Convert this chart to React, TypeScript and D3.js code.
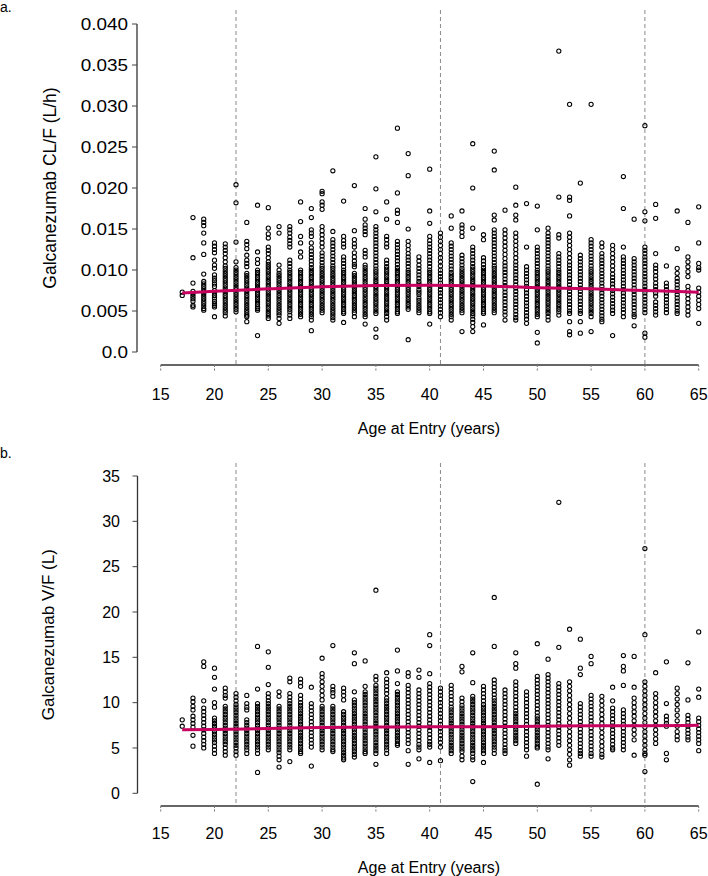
import React from "react";
import * as d3 from "d3";

// ---------- DATA ----------
const ages = [17, 18, 19, 20, 21, 22, 23, 24, 25, 26, 27, 28, 29, 30, 31, 32, 33, 34, 35, 36, 37, 38, 39, 40, 41, 42, 43, 44, 45, 46, 47, 48, 49, 50, 51, 52, 53, 54, 55, 56, 57, 58, 59, 60, 61, 62, 63, 64, 65];

// CL/F in units of 0.001 L/h, one list per age
const clValues = [
  [7.3, 6.9],
  [16.4, 11.5, 8.4, 7.4, 7.1, 6.8, 6.5, 6.2, 5.7, 5.5],
  [16.2, 15.8, 15.4, 14.5, 13.3, 11.9, 9.5, 8.6, 8.3, 8.0, 7.7, 7.4, 7.1, 6.8, 6.5, 6.2, 5.9, 5.6, 5.3, 5.1],
  [13.3, 12.9, 12.5, 12.1, 11.2, 10.6, 10.2, 9.4, 9.0, 8.7, 8.3, 8.0, 7.5, 7.2, 6.9, 6.6, 6.2, 5.9, 5.7, 5.5, 4.3],
  [13.2, 12.8, 12.4, 12.0, 11.5, 11.0, 10.5, 10.2, 9.9, 9.6, 9.3, 9.0, 8.7, 8.4, 8.1, 7.8, 7.5, 7.2, 6.9, 6.6, 6.3, 6.0, 5.7, 5.4, 5.1, 4.8, 4.4],
  [20.4, 18.2, 13.4, 11.0, 10.3, 10.0, 9.7, 9.4, 9.1, 8.8, 8.5, 8.2, 7.9, 7.6, 7.3, 7.0, 6.7, 6.4, 6.1, 5.8, 5.5, 5.2, 4.9],
  [15.8, 13.5, 13.1, 12.6, 11.8, 11.2, 10.8, 10.4, 9.6, 9.3, 9.0, 8.7, 8.4, 8.1, 7.8, 7.5, 7.2, 6.9, 6.6, 6.3, 6.0, 5.7, 5.4, 5.1, 4.8, 4.5, 4.3, 3.7],
  [17.9, 12.2, 11.3, 10.8, 10.0, 9.7, 9.4, 9.1, 8.8, 8.5, 8.2, 7.9, 7.6, 7.3, 7.0, 6.7, 6.4, 6.1, 5.8, 5.5, 5.3, 5.1, 2.0],
  [17.6, 15.1, 14.4, 13.9, 12.8, 12.4, 12.0, 11.5, 11.0, 10.7, 10.4, 10.1, 9.8, 9.5, 9.2, 8.9, 8.6, 8.3, 8.0, 7.7, 7.4, 7.1, 6.8, 6.5, 6.2, 5.9, 5.6, 5.3, 5.0, 4.7, 4.4, 4.1],
  [15.3, 14.5, 10.6, 10.0, 9.6, 9.3, 9.0, 8.7, 8.4, 8.1, 7.8, 7.5, 7.2, 6.9, 6.6, 6.3, 6.0, 5.7, 5.4, 5.1, 4.8, 4.5, 4.1, 3.5],
  [15.3, 14.9, 14.5, 14.0, 13.6, 13.2, 12.8, 11.2, 10.8, 10.4, 10.0, 9.7, 9.4, 9.1, 8.8, 8.5, 8.2, 7.9, 7.6, 7.3, 7.0, 6.7, 6.4, 6.1, 5.8, 5.5, 5.2, 4.9, 4.5, 4.1],
  [18.3, 15.9, 14.1, 13.3, 12.2, 11.6, 10.0, 9.7, 9.4, 9.1, 8.8, 8.5, 8.2, 7.9, 7.6, 7.3, 7.0, 6.7, 6.4, 6.1, 5.8, 5.5, 5.2, 4.9, 4.6, 4.3],
  [17.5, 16.4, 14.9, 14.5, 14.1, 13.3, 12.7, 12.3, 11.9, 11.5, 11.1, 10.7, 10.3, 10.0, 9.7, 9.4, 9.1, 8.8, 8.5, 8.2, 7.9, 7.6, 7.3, 7.0, 6.7, 6.4, 6.1, 5.8, 5.5, 5.2, 4.9, 4.6, 4.3, 3.9, 2.6],
  [19.6, 19.3, 18.3, 17.9, 17.4, 15.3, 14.8, 14.3, 13.8, 13.3, 12.8, 12.1, 11.7, 11.3, 10.9, 10.5, 10.2, 9.9, 9.6, 9.3, 9.0, 8.7, 8.4, 8.1, 7.8, 7.5, 7.2, 6.9, 6.6, 6.3, 6.0, 5.7, 5.4, 5.1, 4.8],
  [22.1, 14.7, 13.7, 13.3, 12.9, 12.5, 12.1, 11.7, 11.3, 10.9, 10.5, 10.2, 9.9, 9.6, 9.3, 9.0, 8.7, 8.4, 8.1, 7.8, 7.5, 7.2, 6.9, 6.6, 6.3, 6.0, 5.7, 5.4, 5.1, 4.8, 4.5, 4.2, 3.9],
  [18.4, 14.1, 13.6, 13.2, 12.8, 11.6, 11.2, 10.8, 10.4, 10.0, 9.7, 9.4, 9.1, 8.8, 8.5, 8.2, 7.9, 7.6, 7.3, 7.0, 6.7, 6.4, 6.1, 5.8, 5.5, 5.2, 4.9, 4.7, 3.6],
  [20.3, 14.8, 13.7, 13.2, 12.8, 12.1, 11.6, 11.1, 10.7, 10.4, 9.6, 9.3, 9.0, 8.7, 8.4, 8.1, 7.8, 7.5, 7.2, 6.9, 6.6, 6.3, 6.0, 5.7, 5.4, 5.1, 4.8, 4.3],
  [17.5, 16.2, 15.5, 15.1, 14.7, 14.3, 12.4, 12.0, 11.6, 10.6, 10.3, 10.0, 9.7, 9.4, 9.1, 8.8, 8.5, 8.2, 7.9, 7.6, 7.3, 7.0, 6.7, 6.4, 6.1, 5.8, 5.5, 5.2, 4.9, 4.6, 4.3, 3.4],
  [23.8, 19.9, 17.1, 15.3, 14.9, 14.5, 14.1, 13.7, 13.3, 12.9, 12.5, 12.1, 11.7, 11.3, 10.9, 10.5, 10.1, 9.8, 9.5, 9.2, 8.9, 8.6, 8.3, 8.0, 7.7, 7.4, 7.1, 6.8, 6.5, 6.2, 5.9, 5.6, 5.3, 5.0, 4.7, 2.8, 1.8],
  [18.3, 16.2, 14.1, 13.7, 13.2, 12.8, 11.2, 10.8, 10.4, 10.1, 9.8, 9.5, 9.2, 8.9, 8.6, 8.3, 8.0, 7.7, 7.4, 7.1, 6.8, 6.5, 6.2, 5.9, 5.6, 5.3, 5.0, 4.7, 4.3, 3.9],
  [27.3, 19.4, 17.3, 16.9, 15.8, 13.5, 13.1, 12.7, 12.3, 11.9, 11.5, 11.1, 10.7, 10.3, 10.0, 9.7, 9.4, 9.1, 8.8, 8.5, 8.2, 7.9, 7.6, 7.3, 7.0, 6.7, 6.4, 6.1, 5.8, 5.5, 5.2, 4.9, 4.7],
  [24.2, 21.5, 15.0, 13.5, 13.0, 12.5, 12.0, 11.6, 11.2, 10.8, 10.4, 10.0, 9.7, 9.4, 9.1, 8.8, 8.5, 8.2, 7.9, 7.6, 7.3, 7.0, 6.7, 6.4, 6.1, 5.8, 5.5, 5.2, 1.5],
  [11.6, 11.1, 10.6, 10.2, 9.8, 9.4, 9.0, 8.6, 8.3, 8.0, 7.6, 7.3, 7.0, 6.6, 6.3, 6.0, 5.7, 5.4, 5.1, 4.8],
  [22.3, 17.2, 15.7, 14.1, 13.6, 13.2, 12.8, 12.4, 12.0, 11.6, 11.2, 10.8, 10.4, 10.0, 9.7, 9.4, 9.1, 8.8, 8.5, 8.2, 7.9, 7.6, 7.3, 7.0, 6.7, 6.4, 6.1, 5.8, 5.5, 5.2, 4.9, 4.7, 3.4],
  [14.5, 14.0, 13.5, 13.0, 12.5, 12.0, 11.5, 11.0, 10.5, 10.0, 9.6, 9.2, 8.8, 8.4, 8.0, 7.6, 7.2, 6.8, 6.4, 6.0, 5.6, 5.2, 4.8, 4.3],
  [16.6, 15.1, 13.3, 12.9, 12.5, 12.1, 11.7, 11.3, 10.9, 10.5, 10.1, 9.7, 9.4, 9.1, 8.8, 8.5, 8.2, 7.9, 7.6, 7.3, 7.0, 6.7, 6.4, 6.1, 5.8, 5.5, 5.2, 4.9, 4.6, 4.3, 3.9],
  [17.2, 15.5, 15.1, 14.6, 14.1, 11.8, 11.4, 11.0, 10.6, 10.2, 9.9, 9.6, 9.3, 9.0, 8.7, 8.4, 8.1, 7.8, 7.5, 7.2, 6.9, 6.6, 6.3, 6.0, 5.7, 5.4, 5.1, 4.8, 2.5],
  [25.4, 20.0, 15.1, 12.8, 12.4, 12.0, 11.6, 11.2, 10.8, 10.4, 10.1, 9.8, 9.5, 9.2, 8.9, 8.6, 8.3, 8.0, 7.7, 7.4, 7.1, 6.8, 6.5, 6.2, 5.9, 5.6, 5.3, 5.0, 4.7, 4.4, 4.0, 3.6, 3.1, 2.5],
  [14.3, 13.7, 11.5, 11.1, 10.7, 10.3, 10.0, 9.7, 9.4, 9.1, 8.8, 8.5, 8.2, 7.9, 7.6, 7.3, 7.0, 6.7, 6.4, 6.1, 5.8, 5.5, 5.2, 4.9, 4.7, 3.3],
  [24.5, 22.2, 16.7, 16.1, 14.9, 14.5, 14.1, 13.7, 13.3, 12.9, 12.5, 12.1, 11.7, 11.3, 10.9, 10.5, 10.2, 9.9, 9.6, 9.3, 9.0, 8.7, 8.4, 8.1, 7.8, 7.5, 7.2, 6.9, 6.6, 6.3, 6.0, 5.7, 5.4, 5.1, 4.8],
  [17.3, 14.9, 14.4, 13.9, 13.4, 12.9, 12.4, 11.9, 11.4, 10.9, 10.5, 10.1, 9.7, 9.3, 8.9, 8.5, 8.1, 7.7, 7.3, 6.9, 6.5, 6.1, 5.7, 5.3, 4.9, 4.5, 3.9],
  [20.1, 17.9, 16.7, 16.1, 14.5, 14.0, 13.5, 13.0, 12.5, 12.0, 11.5, 11.0, 10.6, 10.2, 9.8, 9.4, 9.0, 8.6, 8.2, 7.8, 7.4, 7.0, 6.6, 6.2, 5.8, 5.4, 5.0, 4.6, 4.2, 3.9],
  [18.1, 12.8, 10.4, 10.0, 9.6, 9.2, 8.8, 8.4, 8.0, 7.6, 7.2, 6.8, 6.4, 6.0, 5.6, 5.2, 4.8, 4.4, 4.0, 3.5],
  [17.8, 14.9, 12.8, 12.4, 12.0, 11.6, 11.2, 10.8, 10.4, 10.0, 9.7, 9.4, 9.1, 8.8, 8.5, 8.2, 7.9, 7.6, 7.3, 7.0, 6.7, 6.4, 6.1, 5.8, 5.5, 5.2, 4.9, 4.6, 4.3, 2.4, 1.1],
  [15.1, 14.5, 14.1, 13.7, 13.3, 12.9, 12.5, 12.1, 11.7, 11.3, 10.9, 10.5, 10.1, 9.8, 9.5, 9.2, 8.9, 8.6, 8.3, 8.0, 7.7, 7.4, 7.1, 6.8, 6.5, 6.2, 5.9, 5.6, 5.3, 5.0, 4.7, 4.3, 3.9],
  [36.7, 18.9, 14.3, 13.9, 12.0, 11.6, 11.2, 10.8, 10.4, 10.0, 9.7, 9.4, 9.1, 8.8, 8.5, 8.2, 7.9, 7.6, 7.3, 7.0, 6.7, 6.4, 6.1, 5.8, 5.5, 5.2, 4.9, 4.5],
  [30.2, 18.9, 18.5, 16.6, 14.5, 14.0, 13.5, 13.0, 12.5, 12.0, 11.5, 11.0, 10.6, 10.2, 9.8, 9.4, 9.0, 8.6, 8.2, 7.8, 7.4, 7.0, 6.6, 6.2, 5.8, 5.4, 5.0, 4.7, 3.7, 2.5, 2.1],
  [20.6, 11.8, 11.4, 11.0, 10.6, 10.2, 9.8, 9.4, 9.0, 8.6, 8.2, 7.8, 7.4, 7.0, 6.6, 6.2, 5.8, 5.4, 5.0, 4.7, 3.7, 2.3],
  [30.2, 13.7, 13.3, 12.9, 12.5, 12.1, 11.7, 11.3, 10.9, 10.5, 10.1, 9.8, 9.5, 9.2, 8.9, 8.6, 8.3, 8.0, 7.7, 7.4, 7.1, 6.8, 6.5, 6.2, 5.9, 5.6, 5.3, 5.0, 4.7, 4.3, 2.5],
  [13.3, 12.8, 12.0, 11.6, 11.2, 10.8, 10.4, 10.0, 9.6, 9.2, 8.8, 8.4, 8.0, 7.6, 7.2, 6.8, 6.4, 6.0, 5.6, 5.2, 4.8, 4.4, 4.0, 3.7],
  [13.0, 12.5, 12.0, 11.5, 11.0, 10.5, 10.0, 9.5, 9.1, 8.7, 8.3, 7.9, 7.5, 7.1, 6.7, 6.3, 5.9, 5.5, 5.1, 4.7, 2.0],
  [21.4, 17.5, 12.8, 11.6, 11.2, 10.8, 10.4, 10.0, 9.6, 9.2, 8.8, 8.4, 8.0, 7.6, 7.2, 6.8, 6.4, 6.0, 5.6, 5.2, 4.8, 4.3],
  [16.2, 11.4, 11.0, 10.6, 10.2, 9.8, 9.4, 9.0, 8.6, 8.2, 7.8, 7.4, 7.0, 6.6, 6.2, 5.8, 5.4, 5.0, 4.6, 4.3, 3.2],
  [27.6, 17.1, 16.0, 12.8, 12.4, 12.0, 11.6, 11.2, 10.8, 10.4, 10.0, 9.6, 9.2, 8.8, 8.4, 8.0, 7.6, 7.2, 6.8, 6.4, 6.0, 5.6, 5.2, 4.8, 2.3, 1.8],
  [18.0, 16.3, 12.0, 10.6, 10.2, 9.8, 9.3, 8.9, 8.4, 8.0, 7.6, 7.2, 6.8, 6.1, 5.7, 5.3, 4.9, 4.5],
  [10.5, 8.4, 8.0, 7.6, 7.2, 6.8, 6.4, 6.0, 5.6, 5.2, 4.8],
  [17.2, 12.6, 10.2, 9.6, 9.0, 8.6, 8.2, 7.8, 7.4, 7.0, 6.6, 6.2, 5.8, 5.4, 5.0, 4.7],
  [15.8, 11.6, 11.0, 10.4, 9.8, 9.2, 8.0, 7.5, 7.0, 6.5, 6.0, 5.5, 5.0, 4.5],
  [17.7, 13.3, 10.8, 10.3, 10.0, 7.8, 7.3, 6.8, 6.3, 5.8, 5.3, 3.5],
];

// V/F in L, one list per age
const vValues = [
  [8.1, 7.4],
  [10.5, 10.1, 9.6, 9.2, 8.5, 8.1, 7.7, 7.3, 6.4, 5.2],
  [14.5, 14.0, 10.2, 9.4, 9.0, 8.6, 8.2, 7.8, 7.4, 7.0, 6.6, 6.2, 5.8, 5.4, 5.0],
  [13.8, 12.8, 11.5, 10.0, 9.5, 8.3, 8.0, 7.7, 7.4, 7.1, 6.8, 6.5, 6.2, 5.9, 5.6, 5.2, 4.8, 4.4],
  [11.6, 11.2, 10.8, 10.5, 9.6, 9.3, 9.0, 8.7, 8.4, 8.1, 7.8, 7.5, 7.2, 6.9, 6.6, 6.3, 6.0, 5.7, 5.4, 5.0, 4.6, 4.2],
  [11.0, 10.6, 10.2, 9.8, 9.5, 9.2, 8.9, 8.6, 8.3, 8.0, 7.7, 7.4, 7.1, 6.8, 6.5, 6.2, 5.9, 5.6, 5.3, 5.0, 4.6, 4.2],
  [10.8, 9.9, 9.5, 9.2, 8.1, 7.8, 7.5, 7.2, 6.9, 6.6, 6.3, 6.0, 5.7, 5.4, 5.1, 4.8, 4.4],
  [16.2, 11.5, 9.9, 9.6, 9.3, 9.0, 8.7, 8.4, 8.1, 7.8, 7.5, 7.2, 6.9, 6.6, 6.3, 6.0, 5.7, 5.4, 5.1, 4.8, 4.4, 2.3],
  [15.6, 13.9, 12.0, 11.0, 10.6, 10.2, 9.9, 9.6, 9.3, 9.0, 8.7, 8.4, 8.1, 7.8, 7.5, 7.2, 6.9, 6.6, 6.3, 6.0, 5.7, 5.4, 5.1, 4.8],
  [11.2, 10.7, 9.6, 9.3, 9.0, 8.7, 8.4, 8.1, 7.8, 7.5, 7.2, 6.9, 6.6, 6.3, 6.0, 5.7, 5.4, 5.1, 4.8, 4.5, 4.1, 3.7, 2.9],
  [12.7, 12.3, 11.0, 10.6, 10.2, 9.9, 9.6, 9.3, 9.0, 8.7, 8.4, 8.1, 7.8, 7.5, 7.2, 6.9, 6.6, 6.3, 6.0, 5.7, 5.4, 5.1, 4.8, 3.5],
  [12.6, 12.2, 11.8, 10.8, 10.4, 10.0, 9.7, 9.4, 9.1, 8.8, 8.5, 8.2, 7.9, 7.6, 7.3, 7.0, 6.7, 6.4, 6.1, 5.8, 5.5, 5.2, 4.9, 4.6, 4.4],
  [11.7, 9.9, 9.5, 9.1, 8.7, 8.3, 7.9, 7.5, 7.1, 6.7, 6.3, 5.9, 5.5, 5.1, 3.0],
  [14.9, 13.2, 12.8, 12.3, 11.8, 11.3, 10.8, 10.3, 9.6, 9.3, 9.0, 8.7, 8.4, 8.1, 7.8, 7.5, 7.2, 6.9, 6.6, 6.3, 6.0, 5.7, 5.4, 5.1, 4.8],
  [16.3, 11.8, 11.4, 11.1, 10.7, 9.6, 9.3, 9.0, 8.7, 8.4, 8.1, 7.8, 7.5, 7.2, 6.9, 6.6, 6.3, 6.0, 5.7, 5.4, 5.1, 4.8, 4.6],
  [11.6, 11.2, 10.8, 10.3, 9.0, 8.7, 8.4, 8.1, 7.8, 7.5, 7.2, 6.9, 6.6, 6.3, 6.0, 5.7, 5.4, 5.1, 4.8, 4.5, 4.2, 3.9, 3.7],
  [15.5, 14.3, 11.2, 10.3, 10.0, 9.7, 9.4, 9.1, 8.8, 8.5, 8.2, 7.9, 7.6, 7.3, 7.0, 6.7, 6.4, 6.1, 5.8, 5.5, 5.2, 4.9, 4.6, 4.3, 4.0],
  [14.6, 11.8, 11.2, 10.9, 10.6, 10.3, 10.0, 9.7, 9.4, 9.1, 8.8, 8.5, 8.2, 7.9, 7.6, 7.3, 7.0, 6.7, 6.4, 6.1, 5.8, 5.5, 5.2, 4.9, 4.6, 4.4],
  [22.4, 12.9, 12.5, 11.9, 11.6, 11.3, 11.0, 10.7, 10.4, 10.1, 9.8, 9.5, 9.2, 8.9, 8.6, 8.3, 8.0, 7.7, 7.4, 7.1, 6.8, 6.5, 6.2, 5.9, 5.6, 5.3, 5.0, 4.7, 4.4, 3.2],
  [13.3, 12.6, 12.2, 11.8, 11.4, 11.0, 10.5, 10.2, 9.9, 9.6, 9.3, 9.0, 8.7, 8.4, 8.1, 7.8, 7.5, 7.2, 6.9, 6.6, 6.3, 6.0, 5.7, 5.4, 5.1, 4.8, 4.4],
  [15.8, 13.5, 12.1, 11.2, 10.9, 10.6, 10.3, 10.0, 9.7, 9.4, 9.1, 8.8, 8.5, 8.2, 7.9, 7.6, 7.3, 7.0, 6.7, 6.4, 6.1, 5.8, 5.5, 5.3],
  [13.3, 12.9, 11.9, 11.5, 11.1, 10.7, 10.3, 9.9, 9.5, 9.1, 8.7, 8.3, 7.9, 7.5, 7.1, 6.7, 6.3, 5.9, 5.5, 4.7, 3.2],
  [13.6, 12.8, 11.4, 11.0, 10.6, 10.2, 9.8, 9.4, 9.0, 8.6, 8.2, 7.8, 7.4, 7.0, 6.6, 6.2, 5.8, 5.4, 5.1, 4.8, 3.8],
  [17.5, 16.3, 13.2, 12.1, 11.7, 11.3, 10.9, 10.5, 10.1, 9.7, 9.3, 8.9, 8.5, 8.1, 7.7, 7.3, 6.9, 6.5, 6.1, 5.7, 5.4, 5.1, 3.4],
  [11.6, 11.2, 10.8, 10.4, 10.0, 9.6, 9.2, 8.8, 8.4, 8.0, 7.6, 7.2, 6.8, 6.4, 6.0, 5.6, 5.1, 3.6],
  [11.9, 11.5, 11.1, 10.7, 10.3, 9.9, 9.5, 9.2, 8.9, 8.6, 8.3, 8.0, 7.7, 7.4, 7.1, 6.8, 6.5, 6.2, 5.9, 5.6, 5.3, 5.0, 4.7, 4.4],
  [14.0, 13.4, 10.5, 10.1, 9.7, 9.4, 9.1, 8.8, 8.5, 8.2, 7.9, 7.6, 7.3, 7.0, 6.7, 6.4, 6.1, 5.8, 5.5, 5.2, 4.9, 4.6, 4.1, 3.7],
  [15.5, 12.2, 10.7, 10.4, 10.1, 9.8, 9.5, 9.2, 8.9, 8.6, 8.3, 8.0, 7.7, 7.4, 7.1, 6.8, 6.5, 6.2, 5.9, 5.6, 5.3, 5.0, 4.7, 4.4, 4.0, 3.7, 1.3],
  [11.8, 11.4, 11.0, 10.6, 10.2, 9.8, 9.5, 9.2, 8.9, 8.6, 8.3, 8.0, 7.7, 7.4, 7.1, 6.8, 6.5, 6.2, 5.9, 5.6, 5.3, 5.0, 4.7, 4.4, 3.4],
  [21.6, 16.2, 12.5, 12.1, 11.7, 11.3, 10.9, 10.5, 10.2, 9.9, 9.6, 9.3, 9.0, 8.7, 8.4, 8.1, 7.8, 7.5, 7.2, 6.9, 6.6, 6.3, 6.0, 5.7, 5.4, 5.1, 4.8, 4.4],
  [11.4, 11.0, 10.6, 10.2, 9.8, 9.4, 9.0, 8.6, 8.2, 7.8, 7.4, 7.0, 6.6, 6.2, 5.8, 5.4, 5.0, 4.7, 4.4],
  [15.5, 14.3, 13.8, 12.3, 11.9, 11.5, 11.1, 10.7, 10.3, 9.9, 9.5, 9.1, 8.8, 8.5, 8.2, 7.9, 7.6, 7.3, 7.0, 6.7, 6.4, 6.1, 5.8, 5.5],
  [11.2, 10.8, 10.4, 10.0, 9.6, 9.2, 8.8, 8.4, 8.0, 7.6, 7.2, 6.8, 6.4, 6.0, 5.6, 5.2, 4.8, 4.1],
  [16.5, 12.9, 12.5, 12.1, 11.7, 11.3, 10.9, 10.5, 10.1, 9.7, 9.3, 8.9, 8.5, 8.2, 7.9, 7.6, 7.3, 7.0, 6.7, 6.4, 6.1, 5.8, 5.5, 5.2, 5.0, 1.0],
  [14.8, 13.1, 12.7, 12.3, 11.9, 11.5, 11.1, 10.7, 10.3, 9.9, 9.5, 9.1, 8.7, 8.3, 7.9, 7.5, 7.1, 6.7, 6.3, 5.9, 5.5, 5.1, 4.8, 3.8],
  [32.1, 16.1, 12.1, 11.7, 11.3, 10.9, 10.5, 10.1, 9.7, 9.3, 8.9, 8.5, 8.1, 7.7, 7.3, 6.9, 6.5, 6.1, 5.7, 5.3],
  [18.1, 12.3, 11.8, 11.3, 10.8, 10.3, 9.8, 9.3, 8.8, 8.3, 7.8, 7.3, 6.8, 6.3, 5.8, 5.3, 4.8, 4.3, 3.7, 3.1],
  [17.0, 13.8, 13.1, 9.9, 9.5, 9.1, 8.7, 8.3, 7.9, 7.5, 7.1, 6.7, 6.3, 5.9, 5.5, 5.1, 4.7, 4.4, 4.1],
  [15.1, 14.3, 10.8, 10.4, 10.0, 9.6, 9.2, 8.8, 8.4, 8.0, 7.6, 7.2, 6.8, 6.4, 6.0, 5.6, 5.2, 4.8, 4.4, 4.1],
  [10.7, 10.2, 9.7, 9.2, 8.7, 8.2, 7.7, 7.2, 6.7, 6.2, 5.7, 5.2, 4.7, 4.3, 4.0],
  [11.7, 10.2, 9.4, 9.0, 8.6, 8.2, 7.8, 7.4, 7.0, 6.6, 6.2, 5.8, 5.4, 5.0, 4.8],
  [15.2, 14.0, 13.5, 11.9, 9.2, 8.8, 8.4, 8.0, 7.6, 7.2, 6.8, 6.4, 6.0, 5.6, 5.2, 4.8],
  [15.1, 11.7, 10.5, 10.0, 9.5, 9.0, 8.5, 8.0, 7.5, 7.0, 6.5, 5.9, 4.2],
  [27.0, 17.5, 12.3, 11.8, 11.3, 10.8, 10.3, 9.8, 9.3, 8.8, 8.3, 7.8, 7.3, 6.8, 6.3, 5.8, 5.3, 4.8, 4.4, 4.2, 2.4],
  [13.3, 11.0, 10.5, 10.0, 9.5, 9.0, 8.5, 8.0, 7.5, 7.0, 6.5, 6.0, 5.5],
  [14.5, 9.9, 8.5, 8.1, 7.7, 7.4, 4.4, 3.7],
  [11.6, 11.0, 10.4, 9.8, 9.2, 8.6, 8.0, 7.4, 6.8, 6.3, 5.9],
  [14.4, 10.3, 8.6, 8.2, 7.8, 7.4, 7.0, 6.6, 6.2, 5.9],
  [17.8, 11.5, 10.6, 8.3, 7.9, 7.5, 7.1, 6.7, 6.3, 5.9, 5.5, 4.7],
];

// smooth (loess) trend
const loessAges = [17, 20, 25, 30, 35, 40, 45, 50, 55, 60, 65];
const clLoess = [7.2, 7.4, 7.7, 7.95, 8.1, 8.15, 8.05, 7.85, 7.7, 7.5, 7.3];
const vLoess = [7.0, 7.05, 7.15, 7.25, 7.3, 7.35, 7.35, 7.4, 7.45, 7.45, 7.5];

const xTicks = [15, 20, 25, 30, 35, 40, 45, 50, 55, 60, 65];
const clTicks = [0, 5, 10, 15, 20, 25, 30, 35, 40];
const clTickLabels = ["0.0", "0.005", "0.010", "0.015", "0.020", "0.025", "0.030", "0.035", "0.040"];
const vTicks = [0, 5, 10, 15, 20, 25, 30, 35];
const vTickLabels = ["0", "5", "10", "15", "20", "25", "30", "35"];
const refAges = [22, 41, 60];

// ---------- DRAWING ----------
const FONT = "'Liberation Sans', Arial, Helvetica, sans-serif";
const LINE_COLOR = "#c8005f";

const x = d3.scaleLinear().domain([15, 65]).range([160.7, 698.7]);

type PanelProps = {
  letter: string;
  letterY: number;
  yTop: number;
  yBottom: number;
  yMax: number;
  axisX: number;
  xAxisY: number;
  dashTop: number;
  ticks: number[];
  tickLabels: string[];
  labelRight: number;
  labelStretch: number;
  tickBaseline: number;
  titleBaseline: number;
  yTitle: string;
  yTitleX: number;
  yTitleSize: number;
  values: number[][];
  loess: number[];
};

function Panel(p: PanelProps) {
  const y = d3.scaleLinear().domain([0, p.yMax]).range([p.yBottom, p.yTop]);
  const pts = ages.flatMap((a, i) => p.values[i].map((v) => ({ a, v })));
  const line = d3
    .line<number>()
    .x((_, i) => x(loessAges[i]))
    .y((d) => y(d))
    .curve(d3.curveMonotoneX);
  const yMid = (p.yTop + p.yBottom) / 2;
  return (
    <g>
      <text x={0} y={p.letterY} fontSize={14} fontFamily={FONT} fill="#000">
        {p.letter}
      </text>
      {refAges.map((r) => (
        <line
          key={r}
          x1={x(r)}
          x2={x(r)}
          y1={p.dashTop}
          y2={p.xAxisY}
          stroke="#8a8a8a"
          strokeWidth={1}
          strokeDasharray="4,3"
        />
      ))}
      {pts.map((d, i) => (
        <circle
          key={i}
          cx={x(d.a)}
          cy={y(d.v)}
          r={2.1}
          fill="none"
          stroke="#000"
          strokeWidth={1.05}
        />
      ))}
      <path d={line(p.loess) || ""} fill="none" stroke={LINE_COLOR} strokeWidth={3} />
      <line x1={p.axisX} x2={p.axisX} y1={y(p.yMax)} y2={y(0)} stroke="#333" strokeWidth={1.3} />
      {p.ticks.map((t, i) => (
        <g key={t}>
          <line x1={p.axisX - 5} x2={p.axisX} y1={y(t)} y2={y(t)} stroke="#444" strokeWidth={1} />
          <text
            transform={`translate(${p.labelRight},${y(t)}) scale(${p.labelStretch},1)`}
            textAnchor="end"
            dy="0.36em"
            fontSize={16}
            fontFamily={FONT}
            fill="#000"
          >
            {p.tickLabels[i]}
          </text>
        </g>
      ))}
      <text
        transform={`translate(${p.yTitleX},${yMid}) rotate(-90)`}
        textAnchor="middle"
        dy="0.36em"
        fontSize={p.yTitleSize}
        fontFamily={FONT}
        fill="#000"
      >
        {p.yTitle}
      </text>
      <line x1={x(15)} x2={x(65)} y1={p.xAxisY} y2={p.xAxisY} stroke="#333" strokeWidth={1.3} />
      {xTicks.map((t) => (
        <g key={t}>
          <line x1={x(t)} x2={x(t)} y1={p.xAxisY} y2={p.xAxisY + 7} stroke="#777" strokeWidth={1} strokeDasharray="2,1.5" />
          <text x={x(t)} y={p.tickBaseline} textAnchor="middle" fontSize={16} fontFamily={FONT} fill="#000">
            {t}
          </text>
        </g>
      ))}
      <text x={429} y={p.titleBaseline} textAnchor="middle" fontSize={16} fontFamily={FONT} fill="#000">
        Age at Entry (years)
      </text>
    </g>
  );
}

export default function App() {
  return (
    <svg
      width={708}
      height={876}
      style={{ position: "absolute", left: 0, top: 0, background: "#fff" }}
    >
      <rect width={708} height={876} fill="#fff" />
      <Panel
        letter="a."
        letterY={12}
        yTop={24}
        yBottom={352}
        yMax={40}
        axisX={137}
        xAxisY={365}
        dashTop={10}
        ticks={clTicks}
        tickLabels={clTickLabels}
        labelRight={128}
        labelStretch={1.18}
        tickBaseline={400}
        titleBaseline={434}
        yTitle="Galcanezumab CL/F (L/h)"
        yTitleX={50}
        yTitleSize={17.5}
        values={clValues}
        loess={clLoess}
      />
      <Panel
        letter="b."
        letterY={458}
        yTop={476}
        yBottom={793.3}
        yMax={35}
        axisX={137.5}
        xAxisY={806}
        dashTop={463}
        ticks={vTicks}
        tickLabels={vTickLabels}
        labelRight={120}
        labelStretch={1}
        tickBaseline={839}
        titleBaseline={873}
        yTitle="Galcanezumab V/F (L)"
        yTitleX={48}
        yTitleSize={17}
        values={vValues}
        loess={vLoess}
      />
    </svg>
  );
}
